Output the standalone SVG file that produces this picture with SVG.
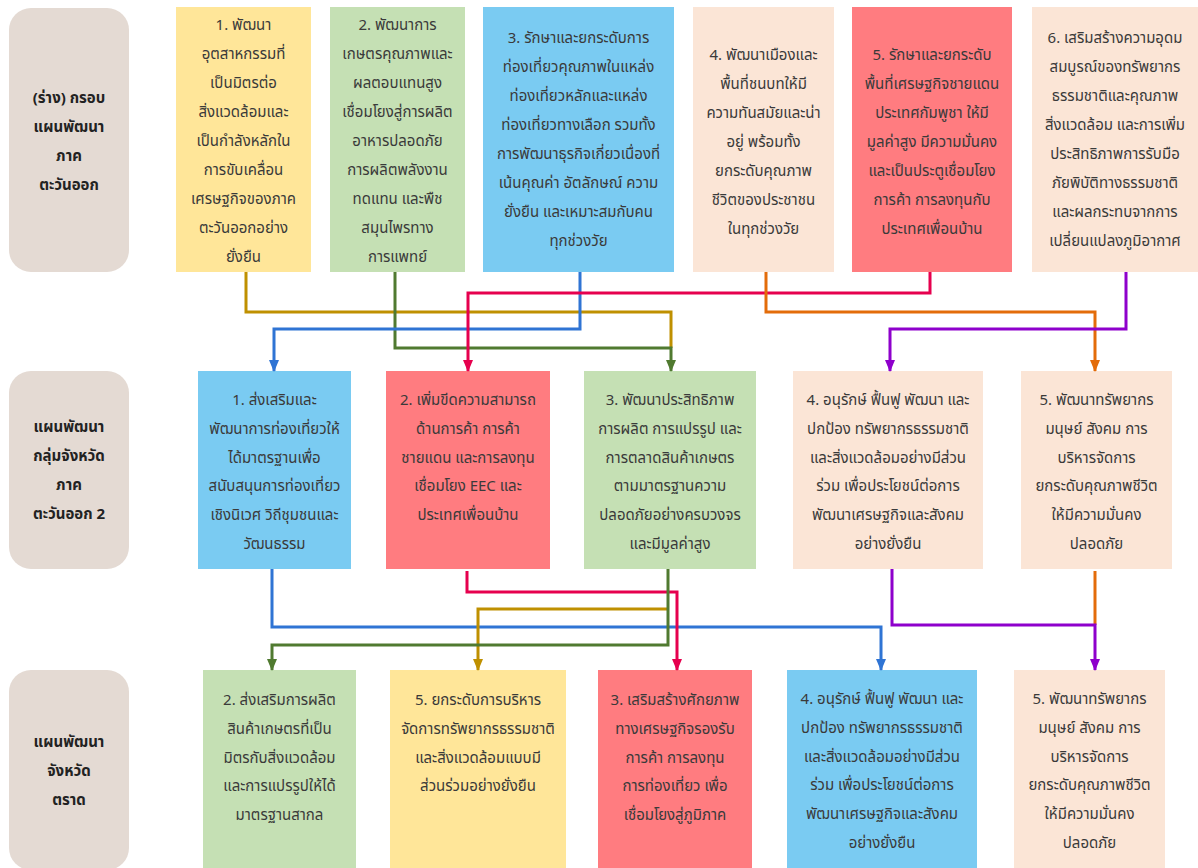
<svg xmlns="http://www.w3.org/2000/svg" width="1198" height="868" viewBox="0 0 1198 868">
<style>
.lbl{fill:#E4DAD3}
.y{fill:#FFE699}.g{fill:#C5E0B4}.b{fill:#7ACBF2}.p{fill:#FBE5D6}.r{fill:#FF7C80}
text{font-family:"Noto Sans","Noto Sans Thai",sans-serif;font-size:15px;fill:#3a3a3a;text-anchor:middle}
.lt{font-weight:bold;fill:#222}
.c{fill:none;stroke-width:3;stroke-linejoin:miter}
</style>
<defs>
<marker id="aY" viewBox="0 0 12 10" refX="11" refY="5" markerWidth="12" markerHeight="10" markerUnits="userSpaceOnUse" orient="auto"><path d="M0,0 L12,5 L0,10 z" fill="#BF9000"/></marker>
<marker id="aG" viewBox="0 0 12 10" refX="11" refY="5" markerWidth="12" markerHeight="10" markerUnits="userSpaceOnUse" orient="auto"><path d="M0,0 L12,5 L0,10 z" fill="#507A30"/></marker>
<marker id="aB" viewBox="0 0 12 10" refX="11" refY="5" markerWidth="12" markerHeight="10" markerUnits="userSpaceOnUse" orient="auto"><path d="M0,0 L12,5 L0,10 z" fill="#2F74D4"/></marker>
<marker id="aR" viewBox="0 0 12 10" refX="11" refY="5" markerWidth="12" markerHeight="10" markerUnits="userSpaceOnUse" orient="auto"><path d="M0,0 L12,5 L0,10 z" fill="#E6004E"/></marker>
<marker id="aO" viewBox="0 0 12 10" refX="11" refY="5" markerWidth="12" markerHeight="10" markerUnits="userSpaceOnUse" orient="auto"><path d="M0,0 L12,5 L0,10 z" fill="#E36C0A"/></marker>
<marker id="aP" viewBox="0 0 12 10" refX="11" refY="5" markerWidth="12" markerHeight="10" markerUnits="userSpaceOnUse" orient="auto"><path d="M0,0 L12,5 L0,10 z" fill="#8E00CC"/></marker>
</defs>
<rect width="1198" height="868" fill="#fff"/>

<g id="label1"><rect class="lbl" x="9" y="8" width="120" height="264" rx="22"/>
<text class="lt" x="69" y="103">(ร่าง) กรอบ</text><text class="lt" x="69" y="132">แผนพัฒนา</text><text class="lt" x="69" y="161">ภาค</text><text class="lt" x="69" y="190">ตะวันออก</text></g>

<g id="t1"><rect class="y" x="176" y="7" width="135" height="265"/>
<text x="243.5" y="30">1. พัฒนา</text><text x="243.5" y="59">อุตสาหกรรมที่</text><text x="243.5" y="88">เป็นมิตรต่อ</text><text x="243.5" y="117">สิ่งแวดล้อมและ</text><text x="243.5" y="146">เป็นกำลังหลักใน</text><text x="243.5" y="175">การขับเคลื่อน</text><text x="243.5" y="204">เศรษฐกิจของภาค</text><text x="243.5" y="233">ตะวันออกอย่าง</text><text x="243.5" y="262">ยั่งยืน</text></g>

<g id="t2"><rect class="g" x="330" y="7" width="135" height="265"/>
<text x="397.5" y="30">2. พัฒนาการ</text><text x="397.5" y="59">เกษตรคุณภาพและ</text><text x="397.5" y="88">ผลตอบแทนสูง</text><text x="397.5" y="117">เชื่อมโยงสู่การผลิต</text><text x="397.5" y="146">อาหารปลอดภัย</text><text x="397.5" y="175">การผลิตพลังงาน</text><text x="397.5" y="204">ทดแทน และพืช</text><text x="397.5" y="233">สมุนไพรทาง</text><text x="397.5" y="262">การแพทย์</text></g>

<g id="t3"><rect class="b" x="483" y="7" width="191" height="265"/>
<text x="578.5" y="43">3. รักษาและยกระดับการ</text><text x="578.5" y="72">ท่องเที่ยวคุณภาพในแหล่ง</text><text x="578.5" y="101">ท่องเที่ยวหลักและแหล่ง</text><text x="578.5" y="130">ท่องเที่ยวทางเลือก รวมทั้ง</text><text x="578.5" y="159">การพัฒนาธุรกิจเกี่ยวเนื่องที่</text><text x="578.5" y="188">เน้นคุณค่า อัตลักษณ์ ความ</text><text x="578.5" y="217">ยั่งยืน และเหมาะสมกับคน</text><text x="578.5" y="246">ทุกช่วงวัย</text></g>

<g id="t4"><rect class="p" x="693" y="7" width="141" height="265"/>
<text x="763.5" y="60">4. พัฒนาเมืองและ</text><text x="763.5" y="89">พื้นที่ชนบทให้มี</text><text x="763.5" y="118">ความทันสมัยและน่า</text><text x="763.5" y="147">อยู่ พร้อมทั้ง</text><text x="763.5" y="176">ยกระดับคุณภาพ</text><text x="763.5" y="205">ชีวิตของประชาชน</text><text x="763.5" y="234">ในทุกช่วงวัย</text></g>

<g id="t5"><rect class="r" x="852" y="7" width="160" height="265"/>
<text x="932" y="60">5. รักษาและยกระดับ</text><text x="932" y="89">พื้นที่เศรษฐกิจชายแดน</text><text x="932" y="118">ประเทศกัมพูชา ให้มี</text><text x="932" y="147">มูลค่าสูง มีความมั่นคง</text><text x="932" y="176">และเป็นประตูเชื่อมโยง</text><text x="932" y="205">การค้า การลงทุนกับ</text><text x="932" y="234">ประเทศเพื่อนบ้าน</text></g>

<g id="t6"><rect class="p" x="1032" y="7" width="166" height="265"/>
<text x="1115" y="43">6. เสริมสร้างความอุดม</text><text x="1115" y="72">สมบูรณ์ของทรัพยากร</text><text x="1115" y="101">ธรรมชาติและคุณภาพ</text><text x="1115" y="130">สิ่งแวดล้อม และการเพิ่ม</text><text x="1115" y="159">ประสิทธิภาพการรับมือ</text><text x="1115" y="188">ภัยพิบัติทางธรรมชาติ</text><text x="1115" y="217">และผลกระทบจากการ</text><text x="1115" y="246">เปลี่ยนแปลงภูมิอากาศ</text></g>

<g id="label2"><rect class="lbl" x="9" y="371" width="120" height="198" rx="22"/>
<text class="lt" x="69" y="432">แผนพัฒนา</text><text class="lt" x="69" y="461">กลุ่มจังหวัด</text><text class="lt" x="69" y="490">ภาค</text><text class="lt" x="69" y="519">ตะวันออก 2</text></g>

<g id="m1"><rect class="b" x="198" y="371" width="153" height="198"/>
<text x="274.5" y="405">1. ส่งเสริมและ</text><text x="274.5" y="434">พัฒนาการท่องเที่ยวให้</text><text x="274.5" y="463">ได้มาตรฐานเพื่อ</text><text x="274.5" y="491">สนับสนุนการท่องเที่ยว</text><text x="274.5" y="520">เชิงนิเวศ วิถีชุมชนและ</text><text x="274.5" y="549">วัฒนธรรม</text></g>

<g id="m2"><rect class="r" x="386" y="371" width="164" height="198"/>
<text x="468" y="405">2. เพิ่มขีดความสามารถ</text><text x="468" y="434">ด้านการค้า การค้า</text><text x="468" y="463">ชายแดน และการลงทุน</text><text x="468" y="491">เชื่อมโยง EEC และ</text><text x="468" y="520">ประเทศเพื่อนบ้าน</text></g>

<g id="m3"><rect class="g" x="584" y="371" width="172" height="198"/>
<text x="670" y="405">3. พัฒนาประสิทธิภาพ</text><text x="670" y="434">การผลิต การแปรรูป และ</text><text x="670" y="463">การตลาดสินค้าเกษตร</text><text x="670" y="491">ตามมาตรฐานความ</text><text x="670" y="520">ปลอดภัยอย่างครบวงจร</text><text x="670" y="549">และมีมูลค่าสูง</text></g>

<g id="m4"><rect class="p" x="793" y="371" width="190" height="198"/>
<text x="888" y="405">4. อนุรักษ์ ฟื้นฟู พัฒนา และ</text><text x="888" y="434">ปกป้อง ทรัพยากรธรรมชาติ</text><text x="888" y="463">และสิ่งแวดล้อมอย่างมีส่วน</text><text x="888" y="491">ร่วม เพื่อประโยชน์ต่อการ</text><text x="888" y="520">พัฒนาเศรษฐกิจและสังคม</text><text x="888" y="549">อย่างยั่งยืน</text></g>

<g id="m5"><rect class="p" x="1021" y="371" width="151" height="198"/>
<text x="1096.5" y="405">5. พัฒนาทรัพยากร</text><text x="1096.5" y="434">มนุษย์ สังคม การ</text><text x="1096.5" y="463">บริหารจัดการ</text><text x="1096.5" y="491">ยกระดับคุณภาพชีวิต</text><text x="1096.5" y="520">ให้มีความมั่นคง</text><text x="1096.5" y="549">ปลอดภัย</text></g>

<g id="label3"><rect class="lbl" x="9" y="670" width="120" height="200" rx="22"/>
<text class="lt" x="69" y="747">แผนพัฒนา</text><text class="lt" x="69" y="776">จังหวัด</text><text class="lt" x="69" y="805">ตราด</text></g>

<g id="b1"><rect class="g" x="203" y="670" width="153" height="200"/>
<text x="279.5" y="705">2. ส่งเสริมการผลิต</text><text x="279.5" y="734">สินค้าเกษตรที่เป็น</text><text x="279.5" y="763">มิตรกับสิ่งแวดล้อม</text><text x="279.5" y="791">และการแปรรูปให้ได้</text><text x="279.5" y="820">มาตรฐานสากล</text></g>

<g id="b2"><rect class="y" x="390" y="670" width="176" height="200"/>
<text x="478" y="705">5. ยกระดับการบริหาร</text><text x="478" y="734">จัดการทรัพยากรธรรมชาติ</text><text x="478" y="763">และสิ่งแวดล้อมแบบมี</text><text x="478" y="791">ส่วนร่วมอย่างยั่งยืน</text></g>

<g id="b3"><rect class="r" x="598" y="670" width="154" height="200"/>
<text x="675" y="705">3. เสริมสร้างศักยภาพ</text><text x="675" y="734">ทางเศรษฐกิจรองรับ</text><text x="675" y="763">การค้า การลงทุน</text><text x="675" y="791">การท่องเที่ยว เพื่อ</text><text x="675" y="820">เชื่อมโยงสู่ภูมิภาค</text></g>

<g id="b4"><rect class="b" x="787" y="670" width="190" height="200"/>
<text x="882" y="704">4. อนุรักษ์ ฟื้นฟู พัฒนา และ</text><text x="882" y="733">ปกป้อง ทรัพยากรธรรมชาติ</text><text x="882" y="762">และสิ่งแวดล้อมอย่างมีส่วน</text><text x="882" y="790">ร่วม เพื่อประโยชน์ต่อการ</text><text x="882" y="819">พัฒนาเศรษฐกิจและสังคม</text><text x="882" y="848">อย่างยั่งยืน</text></g>

<g id="b5"><rect class="p" x="1014" y="670" width="151" height="200"/>
<text x="1089.5" y="704">5. พัฒนาทรัพยากร</text><text x="1089.5" y="733">มนุษย์ สังคม การ</text><text x="1089.5" y="762">บริหารจัดการ</text><text x="1089.5" y="790">ยกระดับคุณภาพชีวิต</text><text x="1089.5" y="819">ให้มีความมั่นคง</text><text x="1089.5" y="848">ปลอดภัย</text></g>

<g id="connectors">
<path class="c" stroke="#BF9000" d="M246,272 V312 H671 V348"/>
<path class="c" stroke="#507A30" d="M395,272 V348 H671 V371" marker-end="url(#aG)"/>
<path class="c" stroke="#2F74D4" d="M580,272 V329 H274 V371" marker-end="url(#aB)"/>
<path class="c" stroke="#E6004E" d="M930,272 V293 H468 V371" marker-end="url(#aR)"/>
<path class="c" stroke="#E36C0A" d="M766,272 V312 H1095 V371" marker-end="url(#aO)"/>
<path class="c" stroke="#8E00CC" d="M1126,272 V329 H890 V371" marker-end="url(#aP)"/>

<path class="c" stroke="#2F74D4" d="M272,569 V627 H881 V670" marker-end="url(#aB)"/>
<path class="c" stroke="#E6004E" d="M467,571 V592 H677 V670" marker-end="url(#aR)"/>
<path class="c" stroke="#BF9000" d="M668,609 H478 V670" marker-end="url(#aY)"/>
<path class="c" stroke="#507A30" d="M668,569 V645 H272 V670" marker-end="url(#aG)"/>
<path class="c" stroke="#E36C0A" d="M1095,571 V625"/>
<path class="c" stroke="#8E00CC" d="M892,569 V625 H1095 V670" marker-end="url(#aP)"/>
</g>
</svg>
